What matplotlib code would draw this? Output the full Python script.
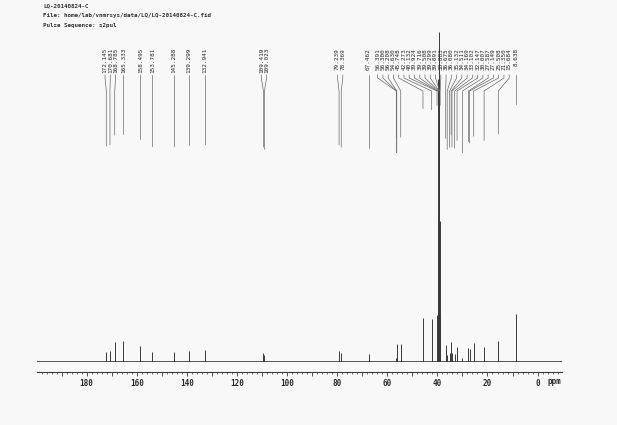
import numpy as np
import matplotlib
matplotlib.use("Agg")
import matplotlib.pyplot as plt
from matplotlib.ticker import MultipleLocator, FuncFormatter

# peak list (ppm) and heights (arbitrary units)
peak_ppm = [172.145, 170.681, 168.785, 165.333, 158.495, 153.781, 145.288,
            139.299, 132.941, 109.419, 109.023, 79.239, 78.369, 67.462,
            56.391, 56.300, 56.208, 54.630, 45.748, 42.273, 40.132, 39.924,
            39.716, 39.508, 39.299, 39.091, 38.883, 36.675, 36.080, 35.132,
            34.511, 34.169, 33.102, 32.147, 30.007, 27.587, 27.149, 25.508,
            21.350, 15.684, 8.638]
peak_height = [10, 11, 20, 21, 16, 10, 10,
               11, 12, 9, 7, 11, 9, 8,
               4, 18, 4, 18, 44, 43, 47, 141,
               283, 330, 283, 141, 47, 17, 7, 9,
               20, 9, 8, 15, 4, 14, 13, 19,
               15, 21, 48]
header = ["LQ-20140824-C",
          "File: home/lab/vnmrsys/data/LQ/LQ-20140824-C.fid",
          "Pulse Sequence: s2pul"]

mono = "DejaVu Sans Mono"
ink = "#3a3a3a"

fig = plt.figure(figsize=(6.17, 4.25), dpi=100, facecolor="#f8f8f8")
ax = fig.add_axes([37 / 617, 63 / 425, 525 / 617, 362 / 425])
ax.set_facecolor("none")
ax.set_xlim(199.8, -9.74)
ax.set_ylim(0, 362)

# spectrum
ax.axhline(0, color=ink, lw=1.2)
ax.vlines(peak_ppm, 0, peak_height, color=ink, lw=0.7)

# spread the labels so they don't overlap
gap = 2.1
order = np.argsort(peak_ppm)[::-1]
groups = [[i] for i in order]
merged = True
while merged:
    merged = False
    pos = []
    for g in groups:
        c = np.mean([peak_ppm[i] for i in g])
        n = len(g)
        pos.append([c + ((n - 1) / 2 - k) * gap for k in range(n)])
    for j in range(len(groups) - 1):
        if pos[j][-1] - gap < pos[j + 1][0]:
            groups[j] = groups[j] + groups[j + 1]
            del groups[j + 1]
            merged = True
            break
label_pos = {}
for g, p in zip(groups, pos):
    for i, x in zip(g, p):
        label_pos[i] = x

for i, ppm in enumerate(peak_ppm):
    lx = label_pos[i]
    ax.text(lx, 314, "%.3f" % ppm, rotation=90, ha="center", va="top",
            fontsize=4.3, family=mono, color="#2a2a2a")
    end = min(205 + 1.1 * peak_height[i], 271)
    ax.plot([lx, lx, ppm, ppm], [287, 284, 271, end], color="#6a6a6a",
            lw=0.5, clip_on=False)

# axis
for s in ["top", "left", "right"]:
    ax.spines[s].set_visible(False)
ax.spines["bottom"].set_position(("outward", 7.2))
ax.spines["bottom"].set_color(ink)
ax.spines["bottom"].set_linewidth(0.8)
ax.set_yticks([])
ax.xaxis.set_major_locator(MultipleLocator(10))
ax.xaxis.set_minor_locator(MultipleLocator(2))
ax.xaxis.set_major_formatter(FuncFormatter(
    lambda v, p: "%d" % v if v % 20 == 0 and 0 <= v <= 180 else ""))
ax.tick_params(axis="x", which="major", length=3, width=0.6, color=ink,
               labelsize=5.5, pad=2, labelcolor="#2a2a2a")
ax.tick_params(axis="x", which="minor", length=1.5, width=0.5, color=ink)
for t in ax.get_xticklabels():
    t.set_family(mono)
    t.set_fontweight("bold")
ax.text(-6.9, -19, "ppm", fontsize=5.5, family=mono, fontweight="bold",
        color="#2a2a2a", ha="center", va="center")

# header
for k, line in enumerate(header):
    fig.text(43 / 617, 1 - (6 + 9.5 * k) / 425, line, fontsize=4.2,
             family=mono, fontweight="bold", color="#333333", va="center")

fig.savefig("out.png", dpi=100, facecolor=fig.get_facecolor())
